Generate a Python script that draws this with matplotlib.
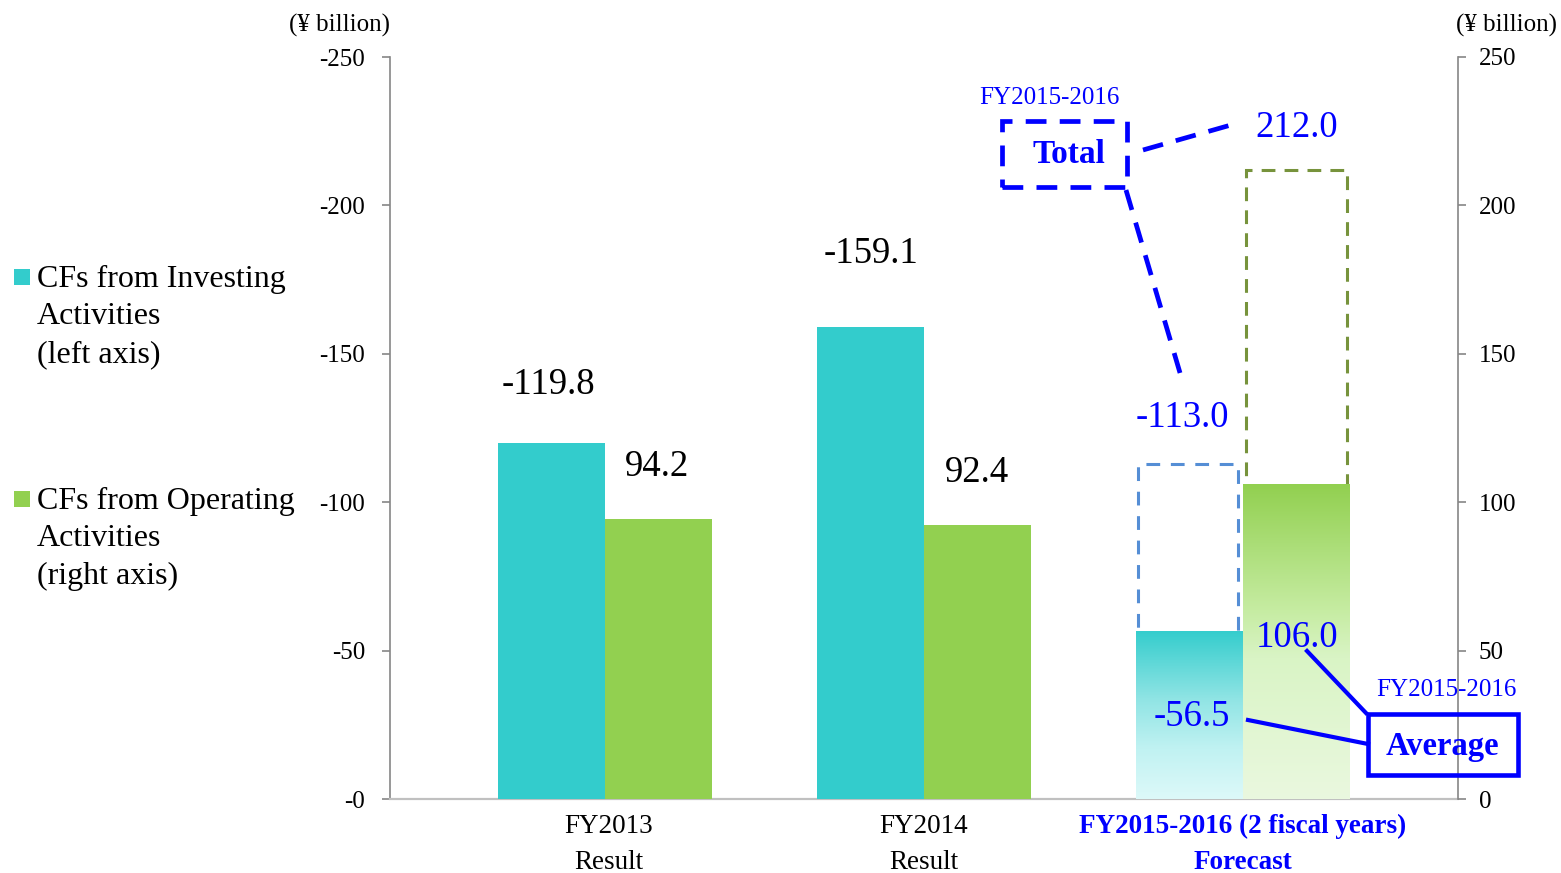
import numpy as np
import matplotlib
matplotlib.use("Agg")
import matplotlib.pyplot as plt
from matplotlib.patches import Rectangle
from matplotlib.lines import Line2D
from matplotlib.colors import to_rgb
from matplotlib.ticker import FixedLocator, FuncFormatter

plt.rcParams['font.family'] = ['Liberation Serif', 'DejaVu Serif']

# ---------------- data ----------------
categories = ["FY2013", "FY2014", "FY2015-2016 (2 fiscal years)"]
sub_labels = ["Result", "Result", "Forecast"]
investing = [-119.8, -159.1, -56.5]       # left axis (¥ billion)
operating = [94.2, 92.4, 106.0]           # right axis (¥ billion)
forecast_total_investing = -113.0
forecast_total_operating = 212.0
left_ticks = [0, -50, -100, -150, -200, -250]
right_ticks = [0, 50, 100, 150, 200, 250]

# ---------------- style ----------------
CYAN = "#33CCCC"
GREEN = "#92D050"
BLUE = "#0000FF"
W_PX, H_PX = 1561, 873

fig = plt.figure(figsize=(W_PX / 100, H_PX / 100), dpi=100)
ax = fig.add_axes([390 / W_PX, 74 / H_PX, 1068 / W_PX, 742 / H_PX])
ax2 = ax.twinx()


def fpx(x, y):
    """pixel position -> figure fraction"""
    return x / W_PX, 1 - y / H_PX


x = np.arange(len(categories))
bw = 0.335
n_res = 2  # number of result years drawn as solid bars

# solid result bars
ax.bar(x[:n_res] - bw / 2, investing[:n_res], bw, color=CYAN, zorder=3)
ax2.bar(x[:n_res] + bw / 2, operating[:n_res], bw, color=GREEN, zorder=3)

# forecast totals as dashed outlines
box_w = 0.315
ax.bar(x[2] - bw / 2 - 0.005, forecast_total_investing, box_w, fill=False,
       edgecolor="#558ED5", linewidth=2.2, linestyle=(0, (4.5, 3.5)), zorder=2)
ax2.bar(x[2] + bw / 2, forecast_total_operating, box_w, fill=False,
        edgecolor="#77933C", linewidth=2.2, linestyle=(0, (4.5, 3.0)), zorder=2)


def gradient_image(stops, n=256):
    pos = [s[0] for s in stops]
    cols = np.array([to_rgb(s[1]) for s in stops])
    t = np.linspace(0, 1, n)
    arr = np.stack([np.interp(t, pos, cols[:, k]) for k in range(3)], axis=-1)
    return arr[:, None, :]


cyan_stops = [(0, "#35CDCD"), (0.4, "#8FE4E4"), (0.7, "#C0F2F2"), (1.0, "#DDF9F9")]
green_stops = [(0, "#92D050"), (0.4, "#C6ECA2"), (0.55, "#D9F4C5"), (1.0, "#EAF8DF")]

# forecast average bars with vertical gradient fill
inv_fc = ax.bar(x[2] - bw / 2, investing[2], bw, color="none", zorder=3)[0]
op_fc = ax2.bar(x[2] + bw / 2, operating[2], bw, color="none", zorder=3)[0]
for axis, bar, stops in ((ax, inv_fc, cyan_stops), (ax2, op_fc, green_stops)):
    x0 = bar.get_x()
    x1 = x0 + bar.get_width()
    y0 = bar.get_y()
    y1 = y0 + bar.get_height()
    im = axis.imshow(gradient_image(stops), extent=[x0, x1, y0, y1],
                     origin="upper", aspect="auto", zorder=3,
                     interpolation="bilinear")
    im.set_clip_path(bar)

# ---------------- axes ----------------
ax.set_xlim(-0.674, 2.674)
ax.set_ylim(0, -250)
ax2.set_ylim(0, 250)
ax.set_xticks([])
ax2.set_xticks([])

ax.yaxis.set_major_locator(FixedLocator(left_ticks))
ax.yaxis.set_major_formatter(FuncFormatter(lambda v, p: "-" + str(int(round(abs(v))))))
ax2.yaxis.set_major_locator(FixedLocator(right_ticks))
ax2.yaxis.set_major_formatter(FuncFormatter(lambda v, p: str(int(round(v)))))

ax.tick_params(axis="y", direction="out", length=6, width=1.2, color="#868686",
               pad=12, labelsize=18)
ax2.tick_params(axis="y", direction="out", length=6, width=1.2, color="#868686",
                pad=9, labelsize=18)

for s in ("top", "right"):
    ax.spines[s].set_visible(False)
for s in ("top", "left", "bottom"):
    ax2.spines[s].set_visible(False)
ax.spines["left"].set_color("#868686")
ax.spines["left"].set_linewidth(1.2)
ax2.spines["right"].set_color("#868686")
ax2.spines["right"].set_linewidth(1.2)
ax.spines["bottom"].set_color("#C0C0C0")
ax.spines["bottom"].set_linewidth(1.6)

# unit labels
fig.text(*fpx(390, 32), "(¥ billion)", ha="right", va="baseline", fontsize=18)
fig.text(*fpx(1557, 32), "(¥ billion)", ha="right", va="baseline", fontsize=18)

# ---------------- category labels ----------------
xt = ax.get_xaxis_transform()
label_shift = [0.012, 0.0, 0.0]
for i, (cat, sub) in enumerate(zip(categories, sub_labels)):
    fc = i == 2
    kw = dict(color=BLUE if fc else "black", fontweight="bold" if fc else "normal",
              fontsize=19.5, ha="center", va="baseline", transform=xt)
    ax.text(x[i] + label_shift[i], (799 - 833) / 742, cat, **kw)
    ax.text(x[i] + label_shift[i], (799 - 869) / 742, sub, **kw)

# ---------------- value labels ----------------
res_offsets_inv = [(-2.5, 35.6), (0, 46.0)]
res_offsets_op = [(-1, 31.2), (0, 30.8)]
for i in range(n_res):
    ax.annotate(f"{investing[i]:.1f}", (x[i] - bw / 2, investing[i]),
                xytext=res_offsets_inv[i], textcoords="offset points",
                ha="center", va="baseline", fontsize=26.5)
    ax2.annotate(f"{operating[i]:.1f}", (x[i] + bw / 2, operating[i]),
                 xytext=res_offsets_op[i], textcoords="offset points",
                 ha="center", va="baseline", fontsize=26.5)

ax.annotate(f"{forecast_total_investing:.1f}", (x[2] - bw / 2, forecast_total_investing),
            xytext=(-5, 26.4), textcoords="offset points",
            ha="center", va="baseline", fontsize=26.5, color=BLUE)
ax2.annotate(f"{forecast_total_operating:.1f}", (x[2] + bw / 2, forecast_total_operating),
             xytext=(0, 23.6), textcoords="offset points",
             ha="center", va="baseline", fontsize=26.5, color=BLUE)
ax.annotate(f"{investing[2]:.1f}", (x[2] - bw / 2, investing[2]),
            xytext=(1.8, -68.4), textcoords="offset points",
            ha="center", va="baseline", fontsize=26.5, color=BLUE, zorder=5)
ax2.annotate(f"{operating[2]:.1f}", (x[2] + bw / 2, operating[2]),
             xytext=(0.7, -117), textcoords="offset points",
             ha="center", va="baseline", fontsize=26.5, color=BLUE, zorder=5)

# ---------------- callouts ----------------
dash = (0, (4.4, 2.8))
(bx0, by0), (bx1, by1) = fpx(1002, 187), fpx(1127, 121)
fig.add_artist(Rectangle((bx0, by0), bx1 - bx0, by1 - by0, transform=fig.transFigure,
                         fill=False, edgecolor=BLUE, linewidth=3.4, linestyle=dash))
fig.add_artist(Line2D(*zip(fpx(1143, 150), fpx(1238, 123)), transform=fig.transFigure,
                      color=BLUE, linewidth=3.4, linestyle=dash))
fig.add_artist(Line2D(*zip(fpx(1126, 190), fpx(1183, 383)), transform=fig.transFigure,
                      color=BLUE, linewidth=3.4, linestyle=dash))
fig.text(*fpx(1069, 163), "Total", ha="center", va="baseline", fontsize=24,
         fontweight="bold", color=BLUE)
fig.text(*fpx(1049, 104), "FY2015-2016", ha="center", va="baseline", fontsize=18,
         color=BLUE)

(ax0, ay0), (ax1, ay1) = fpx(1368, 775), fpx(1518, 714)
fig.add_artist(Rectangle((ax0, ay0), ax1 - ax0, ay1 - ay0, transform=fig.transFigure,
                         fill=False, edgecolor=BLUE, linewidth=3.3, zorder=6))
fig.add_artist(Line2D(*zip(fpx(1248, 720), fpx(1368, 744)), transform=fig.transFigure,
                      color=BLUE, linewidth=3.0, zorder=6))
fig.add_artist(Line2D(*zip(fpx(1307, 651), fpx(1366, 713)), transform=fig.transFigure,
                      color=BLUE, linewidth=3.0, zorder=6))
fig.text(*fpx(1442, 755), "Average", ha="center", va="baseline", fontsize=23.5,
         fontweight="bold", color=BLUE, zorder=6)
fig.text(*fpx(1446, 696), "FY2015-2016", ha="center", va="baseline", fontsize=18,
         color=BLUE, zorder=6)

# ---------------- legend ----------------
legend_items = [
    (CYAN, ["CFs from Investing", "Activities", "(left axis)"], 287),
    (GREEN, ["CFs from Operating", "Activities", "(right axis)"], 509),
]
for col, lines, base in legend_items:
    (sx, sy) = fpx(14, base - 2)
    fig.add_artist(Rectangle((sx, sy), 16 / W_PX, 16 / H_PX, transform=fig.transFigure,
                             facecolor=col, edgecolor="none"))
    for k, line in enumerate(lines):
        fig.text(*fpx(37, base + 37.5 * k), line, ha="left", va="baseline", fontsize=23)

fig.savefig("out.png", dpi=100)
